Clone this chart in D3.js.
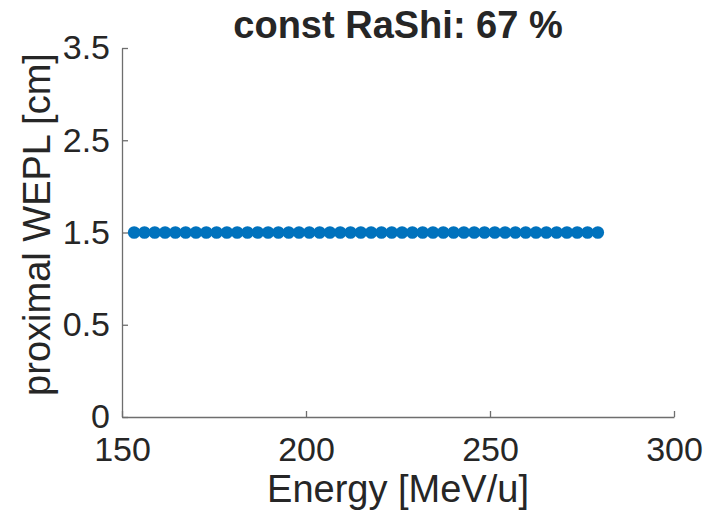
<!DOCTYPE html>
<html>
<head>
<meta charset="utf-8">
<script src="https://cdn.jsdelivr.net/npm/d3@7"></script>
<style>
  body { margin: 0; background: #fff; }
  text { font-family: "Liberation Sans", Arial, sans-serif; fill: #262626; }
</style>
</head>
<body>
<script>
// chart values
var energies = [153.3, 156.1, 158.9, 161.7, 164.5, 167.3, 170.1, 172.9, 175.7, 178.5,
  181.3, 184.1, 186.9, 189.7, 192.5, 195.3, 198.1, 200.9, 203.7, 206.5,
  209.3, 212.1, 214.9, 217.7, 220.5, 223.3, 226.1, 228.9, 231.7, 234.5,
  237.3, 240.1, 242.9, 245.7, 248.5, 251.3, 254.1, 256.9, 259.7, 262.5,
  265.3, 268.1, 270.9, 273.7, 276.5, 279.3];
var wepl = [1.5, 1.5, 1.5, 1.5, 1.5, 1.5, 1.5, 1.5, 1.5, 1.5,
  1.5, 1.5, 1.5, 1.5, 1.5, 1.5, 1.5, 1.5, 1.5, 1.5,
  1.5, 1.5, 1.5, 1.5, 1.5, 1.5, 1.5, 1.5, 1.5, 1.5,
  1.5, 1.5, 1.5, 1.5, 1.5, 1.5, 1.5, 1.5, 1.5, 1.5,
  1.5, 1.5, 1.5, 1.5, 1.5, 1.5];
var xTicks = [150, 200, 250, 300];
var yTicks = [0, 0.5, 1.5, 2.5, 3.5];
var titleText = "const RaShi: 67 %";

//frame
var width = 707, height = 514;
var margin = {left: 122, right: 33, top: 48, bottom: 97};
var w = width - margin.left - margin.right,
  h = height - margin.top - margin.bottom;

var svg = d3.select("body")
  .append("svg")
  .attr("width", width)
  .attr("height", height);

var g = svg.append("g")
  .attr("transform", "translate(" + margin.left + "," + margin.top + ")");

var x = d3.scaleLinear().domain([150, 300]).range([0, w]);
// tick labels are evenly spaced, so the y scale is piecewise
var y = d3.scaleLinear().domain([0, 0.5, 3.5]).range([h, h * 3 / 4, 0]);

var xAxis = g.append("g")
  .attr("transform", "translate(0," + h + ")")
  .call(d3.axisBottom(x).tickValues(xTicks).tickSizeInner(-6).tickSizeOuter(0).tickPadding(20).tickFormat(d3.format("d")));

var yAxis = g.append("g")
  .call(d3.axisLeft(y).tickValues(yTicks).tickSizeInner(-6).tickSizeOuter(0).tickPadding(12).tickFormat(function(d) { return String(d); }));

[xAxis, yAxis].forEach(function(a) {
  a.select(".domain").attr("stroke", "#6e6e6e").attr("stroke-width", 1.3);
  a.selectAll(".tick line").attr("stroke", "#6e6e6e").attr("stroke-width", 1.3);
  a.selectAll(".tick text").attr("font-size", 34).attr("fill", "#262626");
});
xAxis.selectAll(".tick text").attr("dy", "0.71em");

//points
g.selectAll(".pt")
  .data(energies)
  .enter()
  .append("circle")
  .attr("class", "pt")
  .attr("cx", function(d) { return x(d); })
  .attr("cy", function(d, i) { return y(wepl[i]); })
  .attr("r", 6.3)
  .attr("fill", "#0072BD");

//labels
svg.append("text")
  .attr("x", margin.left + w / 2)
  .attr("y", 502)
  .attr("text-anchor", "middle")
  .attr("font-size", 38)
  .text("Energy [MeV/u]");

svg.append("text")
  .attr("transform", "translate(50," + (margin.top + h / 2 - 8) + ") rotate(-90)")
  .attr("text-anchor", "middle")
  .attr("font-size", 38)
  .text("proximal WEPL [cm]");

svg.append("text")
  .attr("x", margin.left + w / 2)
  .attr("y", 38)
  .attr("text-anchor", "middle")
  .attr("font-size", 38)
  .attr("font-weight", "bold")
  .text(titleText);
</script>
</body>
</html>
